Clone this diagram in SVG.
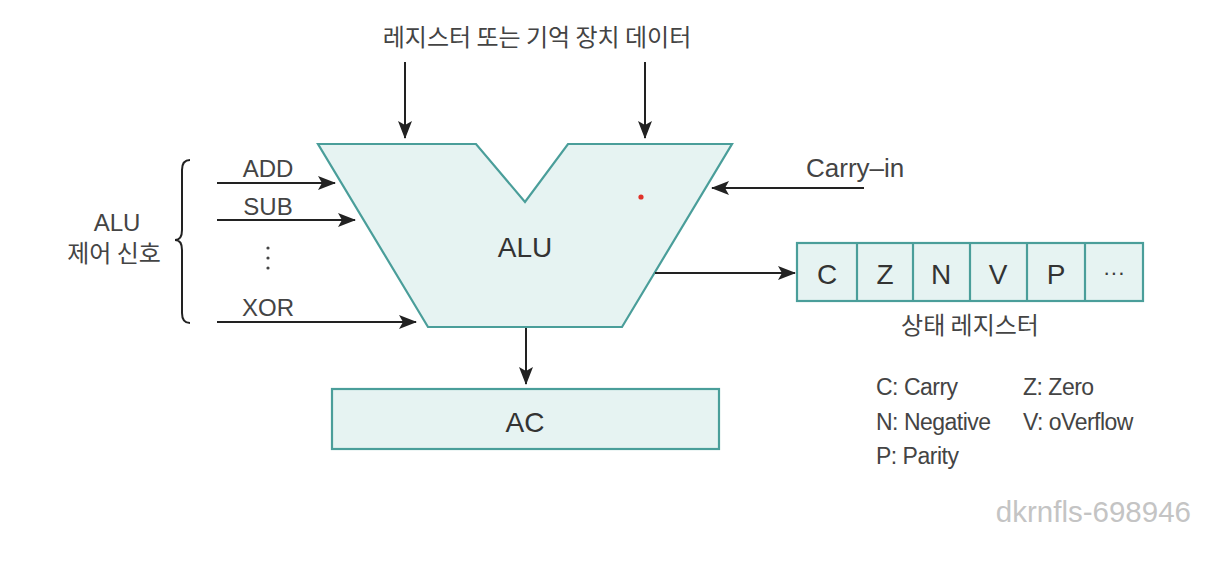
<svg xmlns="http://www.w3.org/2000/svg" width="1214" height="574" viewBox="0 0 1214 574">
<style>
.shape{fill:#e6f3f2;stroke:#4a9e9a;stroke-width:2.2;stroke-linejoin:miter}
.wire{stroke:#222;stroke-width:2;fill:none}
.t{font-family:"Liberation Sans","Noto Sans CJK KR",sans-serif;fill:#3a3a3a}
.k{font-family:"Noto Sans CJK KR","Liberation Sans",sans-serif;fill:#4a4a4a}
.lbl{font-size:24px;fill:#444}
.big{font-size:28px;fill:#333}
.leg{font-size:23px;fill:#444;letter-spacing:-0.5px}
.mid{text-anchor:middle}
</style>
<defs>
<marker id="ah" markerUnits="userSpaceOnUse" markerWidth="18" markerHeight="14" refX="17" refY="7" orient="auto">
<path d="M0,0 L18,7 L0,14 L4,7 Z" fill="#222"/>
</marker>
</defs>
<rect width="1214" height="574" fill="#ffffff"/>

<g id="top-label">
<text class="k lbl mid" x="537" y="46">레지스터 또는 기억 장치 데이터</text>
</g>

<g id="alu">
<polygon class="shape" points="318,144 476,144 525,202 568,144 732,144 622,327 428,327"/>
<text class="t big mid" x="525" y="257">ALU</text>
<circle cx="641" cy="197" r="2.6" fill="#e0322a"/>
</g>

<g id="ac">
<rect class="shape" x="332" y="389" width="387" height="60"/>
<text class="t big mid" x="525" y="432">AC</text>
</g>

<g id="status-register">
<rect class="shape" x="797" y="243" width="346" height="58"/>
<line class="shape" x1="857" y1="243" x2="857" y2="301"/>
<line class="shape" x1="913" y1="243" x2="913" y2="301"/>
<line class="shape" x1="970" y1="243" x2="970" y2="301"/>
<line class="shape" x1="1027" y1="243" x2="1027" y2="301"/>
<line class="shape" x1="1085" y1="243" x2="1085" y2="301"/>
<text class="t big mid" x="827" y="284">C</text>
<text class="t big mid" x="885" y="284">Z</text>
<text class="t big mid" x="941" y="284">N</text>
<text class="t big mid" x="998" y="284">V</text>
<text class="t big mid" x="1056" y="284">P</text>
<text class="t mid" x="1114" y="280" style="font-size:22px">···</text>
<text class="k lbl mid" x="970" y="334">상태 레지스터</text>
</g>

<g id="control-signals">
<text class="t lbl mid" x="117" y="231">ALU</text>
<text class="k lbl mid" x="114" y="262">제어 신호</text>
<path class="wire" stroke-width="1.8" d="M190,160 Q182,160 182,170 L182,230 Q182,240 175,240 Q182,240 182,250 L182,313 Q182,323 190,323"/>
<text class="t lbl mid" x="268" y="177">ADD</text>
<text class="t lbl mid" x="268" y="215">SUB</text>
<circle cx="268" cy="248" r="1.6" fill="#444"/>
<circle cx="268" cy="258" r="1.6" fill="#444"/>
<circle cx="268" cy="268" r="1.6" fill="#444"/>
<text class="t lbl mid" x="268" y="316">XOR</text>
</g>

<g id="carry-in">
<text class="t lbl" x="806" y="177" style="font-size:26px">Carry–in</text>
</g>

<g id="legend">
<text class="t leg" x="876" y="395">C: Carry</text>
<text class="t leg" x="1023" y="395">Z: Zero</text>
<text class="t leg" x="876" y="430">N: Negative</text>
<text class="t leg" x="1023" y="430">V: oVerflow</text>
<text class="t leg" x="876" y="464">P: Parity</text>
</g>

<g id="watermark">
<text x="1191" y="522" font-family="'Liberation Sans',sans-serif" font-size="29.5" fill="#c4c4c4" text-anchor="end">dkrnfls-698946</text>
</g>

<g id="connectors">
<line class="wire" x1="405" y1="62" x2="405" y2="138" marker-end="url(#ah)"/>
<line class="wire" x1="645" y1="62" x2="645" y2="138" marker-end="url(#ah)"/>
<line class="wire" x1="217" y1="183" x2="335" y2="183" marker-end="url(#ah)"/>
<line class="wire" x1="217" y1="220" x2="355" y2="220" marker-end="url(#ah)"/>
<line class="wire" x1="217" y1="322" x2="416" y2="322" marker-end="url(#ah)"/>
<line class="wire" x1="864" y1="188" x2="712" y2="188" marker-end="url(#ah)"/>
<line class="wire" x1="655" y1="273" x2="795" y2="273" marker-end="url(#ah)"/>
<line class="wire" x1="526" y1="328" x2="526" y2="384" marker-end="url(#ah)"/>
</g>
</svg>
